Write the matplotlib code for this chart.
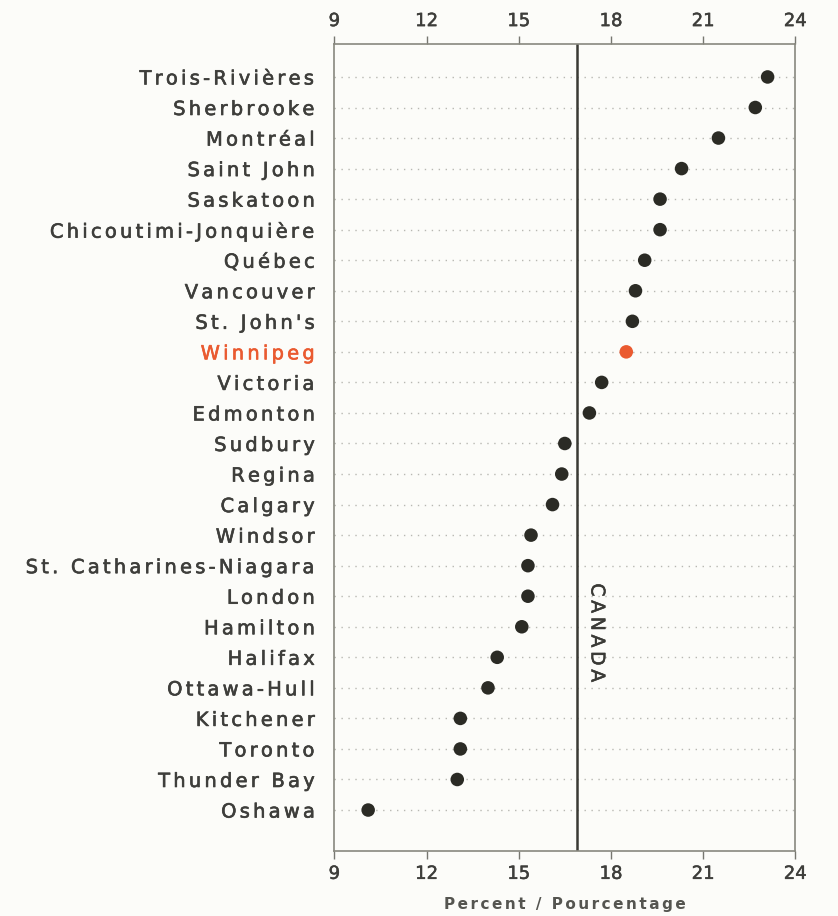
import matplotlib
matplotlib.use("Agg")
import matplotlib.pyplot as plt
import matplotlib.patheffects as pe

# *** DATA
cities = [
    "Trois-Rivières", "Sherbrooke", "Montréal", "Saint John", "Saskatoon",
    "Chicoutimi-Jonquière", "Québec", "Vancouver", "St. John's", "Winnipeg",
    "Victoria", "Edmonton", "Sudbury", "Regina", "Calgary", "Windsor",
    "St. Catharines-Niagara", "London", "Hamilton", "Halifax", "Ottawa-Hull",
    "Kitchener", "Toronto", "Thunder Bay", "Oshawa",
]
percent = [
    23.1, 22.7, 21.5, 20.3, 19.6,
    19.6, 19.1, 18.8, 18.7, 18.5,
    17.7, 17.3, 16.5, 16.4, 16.1, 15.4,
    15.3, 15.3, 15.1, 14.3, 14.0,
    13.1, 13.1, 13.0, 10.1,
]
canada_value = 16.9
highlight = "Winnipeg"
x_ticks = [9, 12, 15, 18, 21, 24]

DOT = "#2b2b25"
HILITE = "#ea5a30"
TEXT = "#3e3e3b"
PAPER = "#fcfcf9"


def spaced(s, gap="\u2006"):
    # wide tracking like the printed original
    return gap.join(s)


def heavier(color, w=0.45):
    return [pe.withStroke(linewidth=w, foreground=color)]


def main():
    fig = plt.figure(figsize=(8.38, 9.16), dpi=100, facecolor=PAPER)
    ax = fig.add_axes([0.399, 0.071, 0.550, 0.881])
    ax.set_facecolor(PAPER)

    rows = list(range(len(cities)))

    # dotted guide lines for every city
    for r in rows:
        ax.axhline(r, color="#b8b8b2", lw=1.0, ls=(0, (1, 4)), zorder=1)

    colors = [HILITE if c == highlight else DOT for c in cities]
    ax.scatter(percent, rows, s=95, c=colors, zorder=3, edgecolors="none")

    # national reference line
    ax.axvline(canada_value, color="#3a3a34", lw=1.8, zorder=2)
    ax.text(canada_value + 0.65, 18.2, spaced("CANADA", "\u2009"), rotation=-90,
            ha="center", va="center", fontsize=13.5, color="#3a3a36",
            path_effects=heavier("#3a3a36", 0.4))

    ax.set_xlim(9, 24)
    ax.set_ylim(len(cities) - 1 + 1.34, -1.08)

    ax.set_yticks(rows)
    ax.set_yticklabels([spaced(c) for c in cities], fontsize=14, color=TEXT)
    for lbl, c in zip(ax.get_yticklabels(), cities):
        col = HILITE if c == highlight else TEXT
        lbl.set_color(col)
        lbl.set_path_effects(heavier(col))
    ax.tick_params(axis="y", length=0, pad=14)

    ax.set_xticks(x_ticks)
    ax.tick_params(axis="x", which="both", top=True, labeltop=True,
                   bottom=True, labelbottom=True, direction="out",
                   length=6, width=1, color="#777770", labelsize=13,
                   labelcolor=TEXT, pad=4)
    for lbl in ax.xaxis.get_ticklabels():
        lbl.set_path_effects(heavier(TEXT, 0.35))

    for side in ["top", "bottom", "left", "right"]:
        ax.spines[side].set_color("#88887f")
        ax.spines[side].set_linewidth(1.2)

    ax.set_xlabel(spaced("Percent / Pourcentage"), fontsize=11,
                  fontweight="bold", color="#555550", labelpad=10)

    fig.savefig("out.png", dpi=100, facecolor=PAPER)


if __name__ == "__main__":
    main()
